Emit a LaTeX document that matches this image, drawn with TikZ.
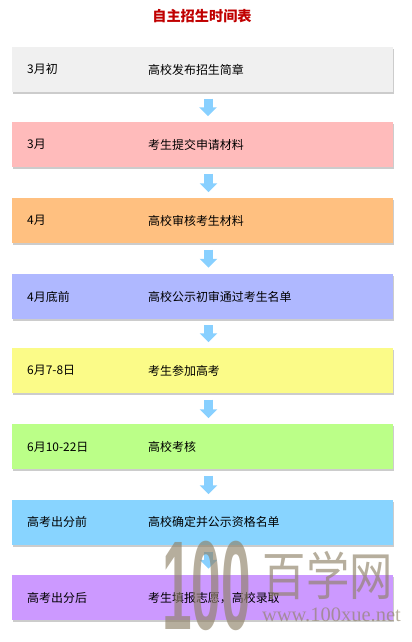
\documentclass[tikz,border=0pt]{standalone}
\usepackage{fontspec}
\setmainfont{Noto Sans CJK SC}
\newfontfamily\markserif{Liberation Serif}
\newfontfamily\marksans{Liberation Sans}
\usetikzlibrary{arrows.meta,shadows}
\definecolor{boxgray}{HTML}{F0F0F0}
\definecolor{boxred}{HTML}{FFBBBB}
\definecolor{boxorange}{HTML}{FFC080}
\definecolor{boxblue}{HTML}{AFB8FF}
\definecolor{boxyellow}{HTML}{FBFB88}
\definecolor{boxgreen}{HTML}{BBFF88}
\definecolor{boxsky}{HTML}{88D4FF}
\definecolor{boxpurple}{HTML}{CC99FF}
\definecolor{titlered}{HTML}{C00000}
\definecolor{markgray}{HTML}{8F8268}
\definecolor{flowblue}{HTML}{88D0FF}
\begin{document}
\begin{tikzpicture}[
    stage/.style={minimum width=11.43cm,minimum height=1.35cm,inner sep=0pt,
        drop shadow={shadow xshift=1.2pt,shadow yshift=-1.5pt,fill=black,opacity=.2}},
    txt/.style={anchor=west,inner sep=0pt,font=\fontsize{10.2pt}{12pt}\selectfont},
    flow/.style={draw=flowblue,line width=.27cm,
        -{Triangle[width=.51cm,length=.27cm]},shorten >=.18cm,shorten <=.18cm},
    wmark/.style={inner sep=0pt,text=markgray,opacity=.65}]
    \useasboundingbox (0,0) rectangle (12.36,19.26);

    % Titulo
    \node[inner sep=0pt,text=titlered,font=\fontsize{12.1pt}{14pt}\selectfont\bfseries] (title) at (6.06,18.78) {自主招生时间表};

    % Cajas
    \node[stage,fill=boxgray] (b1) at (6.075,17.16) {};
    \node[stage,fill=boxred] (b2) at (6.075,14.91) {};
    \node[stage,fill=boxorange] (b3) at (6.075,12.63) {};
    \node[stage,fill=boxblue] (b4) at (6.075,10.365) {};
    \node[stage,fill=boxyellow] (b5) at (6.075,8.13) {};
    \node[stage,fill=boxgreen] (b6) at (6.075,5.85) {};
    \node[stage,fill=boxsky] (b7) at (6.075,3.57) {};
    \node[stage,fill=boxpurple] (b8) at (6.075,1.335) {};

    % Flechas
    \draw[flow] ([xshift=.165cm]b1.south) -- ([xshift=.165cm]b2.north);
    \draw[flow] ([xshift=.18cm]b2.south) -- ([xshift=.18cm]b3.north);
    \draw[flow] ([xshift=.18cm]b3.south) -- ([xshift=.18cm]b4.north);
    \draw[flow] ([xshift=.18cm]b4.south) -- ([xshift=.18cm]b5.north);
    \draw[flow] ([xshift=.18cm]b5.south) -- ([xshift=.18cm]b6.north);
    \draw[flow] ([xshift=.18cm]b6.south) -- ([xshift=.18cm]b7.north);
    \draw[flow] ([xshift=.18cm]b7.south) -- ([xshift=.18cm]b8.north);

    % Fechas
    \node[txt] (d1) at (0.81,17.2) {3月初};
    \node[txt] (d2) at (0.81,14.92) {3月};
    \node[txt] (d3) at (0.81,12.64) {4月};
    \node[txt] (d4) at (0.81,10.36) {4月底前};
    \node[txt] (d5) at (0.81,8.14) {6月7-8日};
    \node[txt] (d6) at (0.81,5.85) {6月10-22日};
    \node[txt] (d7) at (0.81,3.6) {高考出分前};
    \node[txt] (d8) at (0.81,1.32) {高考出分后};

    % Pasos
    \node[txt] (s1) at (4.44,17.17) {高校发布招生简章};
    \node[txt] (s2) at (4.44,14.92) {考生提交申请材料};
    \node[txt] (s3) at (4.44,12.64) {高校审核考生材料};
    \node[txt] (s4) at (4.44,10.36) {高校公示初审通过考生名单};
    \node[txt] (s5) at (4.44,8.14) {考生参加高考};
    \node[txt] (s6) at (4.44,5.85) {高校考核};
    \node[txt] (s7) at (4.44,3.6) {高校确定并公示资格名单};
    \node[txt] (s8) at (4.44,1.32) {考生填报志愿，高校录取};

    % Marca de agua
    \node[wmark,font=\marksans\bfseries\fontsize{108pt}{108pt}\selectfont,xscale=.42] (m100) at (6.2,1.68) {100};
    \node[wmark,font=\fontsize{37pt}{40pt}\selectfont,yscale=1.2] (mname) at (9.84,1.98) {百学网};
    \node[wmark,font=\markserif\fontsize{17.5pt}{18pt}\selectfont] (mweb) at (9.945,0.81) {www.100xue.net};
\end{tikzpicture}
\end{document}
